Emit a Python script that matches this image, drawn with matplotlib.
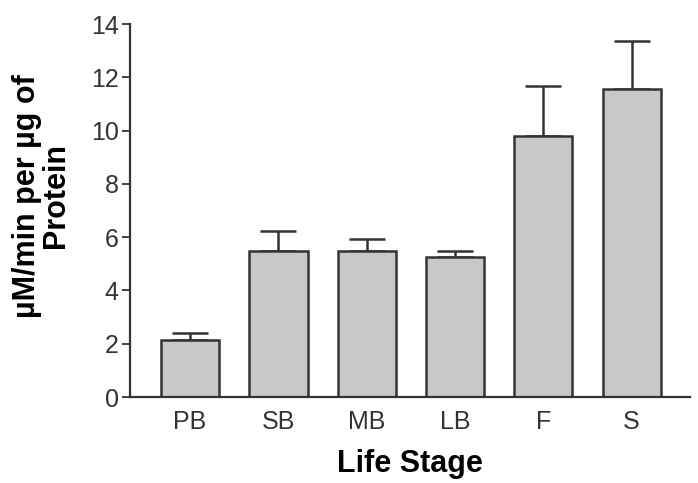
import matplotlib
matplotlib.use("Agg")
import matplotlib.pyplot as plt
import numpy as np

plt.rcParams.update({"font.family": ["Liberation Sans", "DejaVu Sans"]})

# ---- data ----
stages = ["PB", "SB", "MB", "LB", "F", "S"]
activity = [2.14, 5.48, 5.48, 5.26, 9.80, 11.56]
err_up = [0.26, 0.75, 0.45, 0.22, 1.87, 1.80]
yticks = [0, 2, 4, 6, 8, 10, 12, 14]

EDGE = "#333333"
FILL = "#c8c8c8"

fig = plt.figure(figsize=(6.98, 4.83), dpi=100)
ax = fig.add_axes([0.1862, 0.178, 0.8023, 0.772])

x = np.arange(len(stages))
ax.bar(x, activity, width=0.66, color=FILL, edgecolor=EDGE, linewidth=1.8, zorder=2)
ax.errorbar(x, activity, yerr=[np.zeros(len(x)), err_up], fmt="none",
            ecolor=EDGE, elinewidth=1.8, capsize=13, capthick=1.8, zorder=1)

ax.set_xlim(-0.68, 5.66)
ax.set_ylim(0, 14)
ax.set_yticks(yticks)
ax.set_xticks(x)
ax.set_xticklabels(stages)
ax.tick_params(axis="x", length=0, pad=9, labelsize=18, colors="#333333")
ax.tick_params(axis="y", length=6, width=1.3, labelsize=18, colors="#333333", pad=2)
for s in ("top", "right"):
    ax.spines[s].set_visible(False)
for s in ("left", "bottom"):
    ax.spines[s].set_linewidth(1.6)
    ax.spines[s].set_color(EDGE)

ax.set_xlabel("Life Stage", fontsize=22, fontweight="bold", labelpad=11)
ax.set_ylabel("\u00b5M/min per \u00b5g of\nProtein", fontsize=22, fontweight="bold",
              linespacing=0.95)
ax.yaxis.set_label_coords(-0.105, 0.54)

fig.savefig("out.png", dpi=100)
